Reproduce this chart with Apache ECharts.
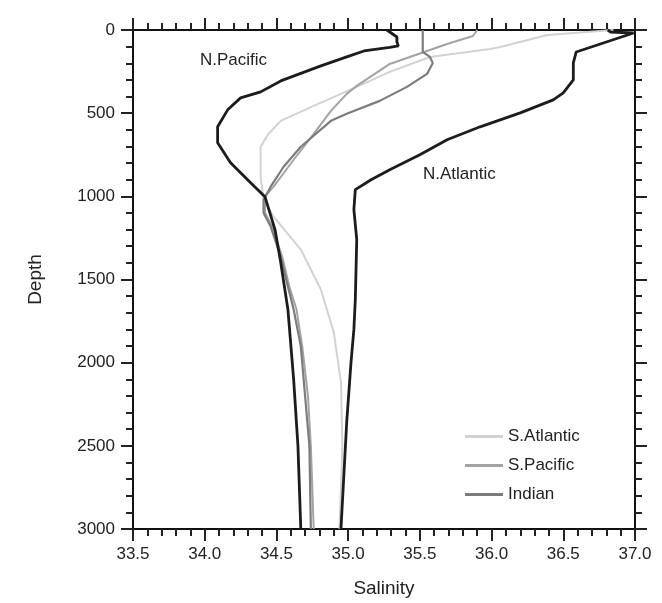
<!DOCTYPE html>
<html>
<head>
<meta charset="utf-8">
<script src="https://cdn.jsdelivr.net/npm/echarts@6/dist/echarts.min.js"></script>
<style>
  html, body { margin: 0; padding: 0; background: #fff; }
  #chart { width: 662px; height: 603px; }
</style>
</head>
<body>
<div id="chart"></div>
<script>
// salinity / depth pairs
const nPacific = [[35.27,0],[35.29,12],[35.34,42],[35.34,72],[35.35,96],[35.29,104],[35.11,126],[34.99,162],[34.81,216],[34.53,306],[34.39,372],[34.25,408],[34.16,480],[34.09,582],[34.09,678],[34.18,798],[34.32,918],[34.42,1002],[34.49,1200],[34.53,1398],[34.58,1680],[34.62,2100],[34.65,2500],[34.67,3000]]
const nAtlantic = [[36.81,0],[36.83,12],[36.99,18],[36.80,72],[36.59,132],[36.57,198],[36.57,300],[36.50,378],[36.43,420],[36.20,498],[35.92,582],[35.69,660],[35.50,750],[35.29,840],[35.16,900],[35.05,960],[35.04,1080],[35.06,1260],[35.05,1620],[35.04,1800],[35.02,1998],[34.99,2358],[34.95,3000]]
const sAtlantic = [[36.85,0],[36.39,30],[36.06,102],[35.99,114],[35.57,162],[35.29,252],[35.06,342],[34.76,456],[34.53,546],[34.44,630],[34.39,702],[34.39,882],[34.41,1020],[34.48,1122],[34.67,1320],[34.81,1560],[34.90,1818],[34.95,2118],[34.96,2502],[34.94,3000]]
const sPacific = [[35.90,0],[35.87,36],[35.69,84],[35.53,132],[35.29,204],[35.06,336],[34.99,384],[34.88,486],[34.76,624],[34.62,780],[34.48,942],[34.42,1002],[34.42,1098],[34.47,1182],[34.54,1362],[34.59,1542],[34.64,1680],[34.68,1902],[34.72,2202],[34.74,2502],[34.76,3000]]
const indian = [[35.52,0],[35.52,132],[35.57,162],[35.59,198],[35.55,264],[35.41,342],[35.22,426],[34.99,504],[34.88,546],[34.67,702],[34.55,822],[34.46,942],[34.41,1020],[34.41,1098],[34.46,1182],[34.53,1362],[34.58,1542],[34.62,1680],[34.67,1902],[34.70,2202],[34.73,2502],[34.74,3000]]

const legendNames = ['S.Atlantic', 'S.Pacific', 'Indian']

const myChart = echarts.init(document.getElementById('chart'))

const font = 'Liberation Sans, Arial, sans-serif'
const textColor = '#222'

function xAx(pos, labels) {
  return {
    type: 'value', position: pos, min: 33.5, max: 37.0, interval: 0.5,
    axisLine: { show: true, onZero: false, lineStyle: { color: '#111', width: 2 } },
    axisTick: { show: true, inside: false, length: 12, lineStyle: { color: '#222', width: 2 } },
    minorTick: { show: true, splitNumber: 5, length: 7, lineStyle: { color: '#222', width: 2 } },
    splitLine: { show: false },
    axisLabel: {
      show: labels, margin: 17, color: textColor, fontSize: 17, fontFamily: font,
      formatter: v => v.toFixed(1)
    },
    name: labels ? 'Salinity' : '', nameLocation: 'middle', nameGap: 50,
    nameTextStyle: { color: textColor, fontSize: 19, fontFamily: font }
  }
}

function yAx(pos, labels) {
  return {
    type: 'value', position: pos, min: 0, max: 3000, interval: 500, inverse: true,
    axisLine: { show: true, onZero: false, lineStyle: { color: '#111', width: 2 } },
    axisTick: { show: true, inside: false, length: 12, lineStyle: { color: '#222', width: 2 } },
    minorTick: { show: true, splitNumber: 5, length: 7, lineStyle: { color: '#222', width: 2 } },
    splitLine: { show: false },
    axisLabel: {
      show: labels, margin: 18, color: textColor, fontSize: 17, fontFamily: font,
      formatter: v => String(v)
    },
    name: labels ? 'Depth' : '', nameLocation: 'middle', nameGap: 88,
    nameTextStyle: { color: textColor, fontSize: 19, fontFamily: font }
  }
}

function line(name, data, color, width) {
  return {
    name: name, type: 'line', data: data, symbol: 'none', smooth: false,
    xAxisIndex: 0, yAxisIndex: 0,
    lineStyle: { color: color, width: width }, itemStyle: { color: color },
    z: 3
  }
}

let option = {
  animation: false,
  backgroundColor: '#fff',
  grid: { left: 133, top: 30, right: 27, bottom: 73 },
  xAxis: [xAx('bottom', true), xAx('top', false)],
  yAxis: [yAx('left', true), yAx('right', false)],
  legend: {
    data: legendNames, orient: 'vertical', left: 460, top: 423,
    itemWidth: 38, itemHeight: 3, itemGap: 12, icon: 'rect',
    textStyle: { color: textColor, fontSize: 17, fontFamily: font }
  },
  graphic: [
    { type: 'text', left: 200, top: 52, style: { text: 'N.Pacific', fill: textColor, font: '17px ' + font } },
    { type: 'text', left: 423, top: 166, style: { text: 'N.Atlantic', fill: textColor, font: '17px ' + font } }
  ],
  series: [
    line('S.Atlantic', sAtlantic, '#d2d2d2', 2),
    line('S.Pacific', sPacific, '#a3a3a3', 2),
    line('Indian', indian, '#7c7c7c', 2.2),
    line('N.Pacific', nPacific, '#1c1c1c', 2.8),
    line('N.Atlantic', nAtlantic, '#1c1c1c', 2.8)
  ]
}

myChart.setOption(option)
</script>
</body>
</html>
